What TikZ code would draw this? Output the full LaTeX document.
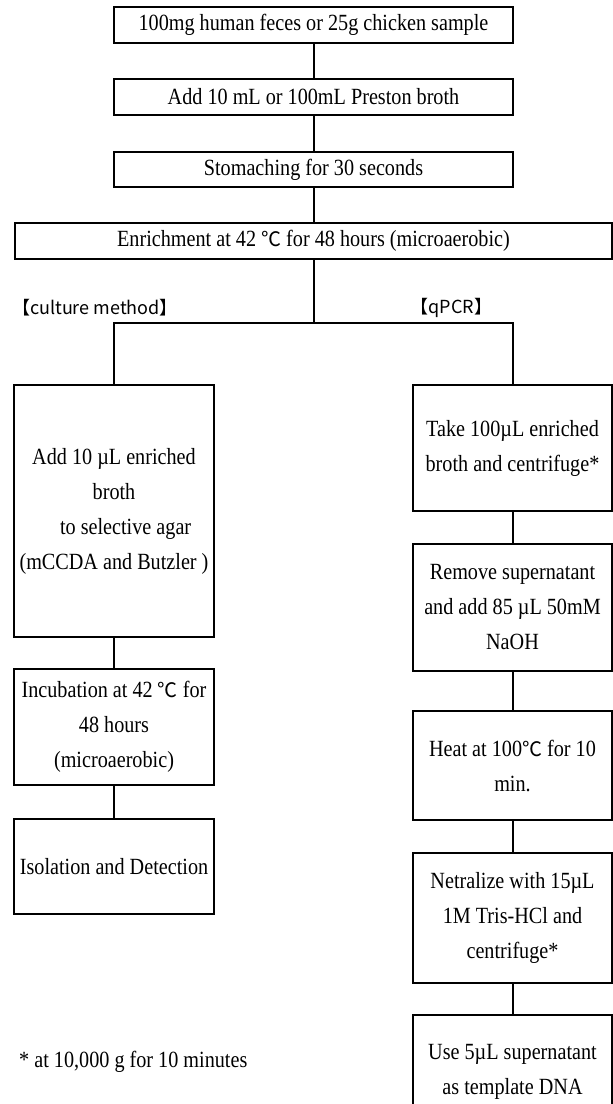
\documentclass[tikz,border=0pt]{standalone}
\usepackage{fontspec}
\setmainfont{Liberation Serif}[FakeStretch=0.87]
\newfontfamily\cjk{Noto Sans CJK JP}
\newcommand{\degc}{{\cjk\fontsize{20}{20}\selectfont ℃}}
\usetikzlibrary{positioning}
\tikzset{
  stepbox/.style={draw, line width=2pt, inner sep=0pt, align=center,
    font=\fontsize{23.2}{35}\selectfont},
  link/.style={line width=2pt},
  branchlabel/.style={inner sep=0pt, font=\cjk\fontsize{18}{18}\selectfont}
}

\begin{document}
\begin{tikzpicture}[x=1pt,y=-1pt]
  \useasboundingbox (0,0) rectangle (613,1104);
  \clip (0,0) rectangle (613,1104);

  % common preparation
  \node [stepbox, minimum width=399pt, minimum height=36pt] (sample) at (313.5,25) {100mg human feces or 25g chicken sample};
  \node [stepbox, minimum width=399pt, minimum height=36pt, below=34pt of sample] (broth) {Add 10 mL or 100mL Preston broth};
  \node [stepbox, minimum width=399pt, minimum height=35pt, below=35pt of broth] (stomach) {Stomaching for 30 seconds};
  \node [stepbox, minimum width=597pt, minimum height=36pt, below=34pt of stomach] (enrich) {Enrichment at 42 \degc{} for 48 hours (microaerobic)};
  \coordinate (split) at (313.5,323);

  \node [branchlabel] (culturelab) at (95,308) {【culture method】};
  \node [branchlabel] (qpcrlab) at (451.5,308) {【qPCR】};

  % culture method
  \node [stepbox, minimum width=200pt, minimum height=252pt] (cul1) at (114,511) {Add 10 µL enriched\\broth\\\hspace*{1em}to selective agar\\(mCCDA and Butzler )};
  \node [stepbox, minimum width=200pt, minimum height=116pt, below=30pt of cul1] (cul2) {Incubation at 42 \degc{} for\\48 hours\\(microaerobic)};
  \node [stepbox, minimum width=200pt, minimum height=95pt, below=32pt of cul2] (cul3) {Isolation and Detection};

  % qPCR
  \node [stepbox, minimum width=199pt, minimum height=126pt] (q1) at (512.5,448) {Take 100µL enriched\\broth and centrifuge*};
  \node [stepbox, minimum width=199pt, minimum height=127pt, below=31pt of q1] (q2) {Remove supernatant\\and add 85 µL 50mM\\NaOH};
  \node [stepbox, minimum width=199pt, minimum height=109pt, below=38pt of q2] (q3) {Heat at 100\degc{} for 10\\min.};
  \node [stepbox, minimum width=199pt, minimum height=130pt, below=31pt of q3] (q4) {Netralize with 15µL\\1M Tris-HCl and\\centrifuge*};
  \node [stepbox, minimum width=199pt, minimum height=114pt, below=30pt of q4] (q5) {Use 5µL supernatant\\as template DNA};

  \node [anchor=west, inner sep=0pt, font=\fontsize{23.2}{35}\selectfont] (note) at (19,1062) {* at 10,000 g for 10 minutes};

  \draw [link] (sample) -- (broth);
  \draw [link] (broth) -- (stomach);
  \draw [link] (stomach) -- (enrich);
  \draw [link] (enrich) -- (split);
  \draw [link] (cul1) |- (split) -| (q1);
  \draw [link] (cul1) -- (cul2);
  \draw [link] (cul2) -- (cul3);
  \draw [link] (q1) -- (q2);
  \draw [link] (q2) -- (q3);
  \draw [link] (q3) -- (q4);
  \draw [link] (q4) -- (q5);
\end{tikzpicture}
\end{document}
